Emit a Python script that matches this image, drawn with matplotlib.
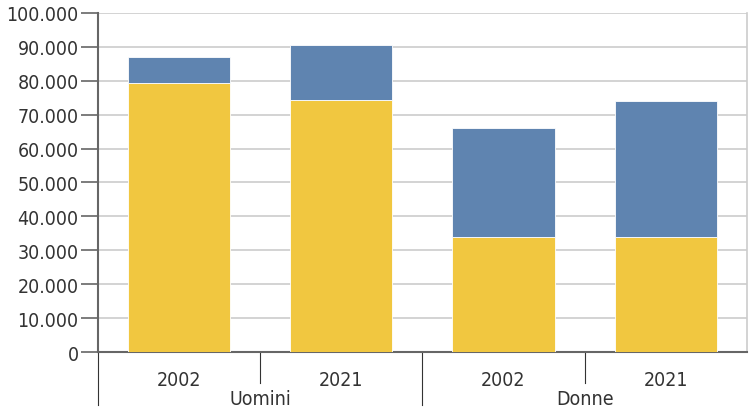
import matplotlib.pyplot as plt
from matplotlib.ticker import FuncFormatter

anni = ["2002", "2021", "2002", "2021"]
gruppi = ["Uomini", "Donne"]
parte_gialla = [79300, 74200, 34000, 34000]
parte_blu = [7600, 16400, 32200, 40000]

giallo = "#F1C740"
blu = "#5F84B0"

plt.rcParams['font.family'] = ['DejaVu Sans']
plt.rcParams['font.stretch'] = 'condensed'

fig = plt.figure(figsize=(7.5, 4.1), dpi=100)
ax = fig.add_axes([0.1307, 0.139, 0.865, 0.827])

x = list(range(len(anni)))
ax.bar(x, parte_gialla, width=0.63, color=giallo, edgecolor="white", linewidth=0.6, zorder=3)
ax.bar(x, parte_blu, width=0.63, bottom=parte_gialla, color=blu, edgecolor="white", linewidth=0.6, zorder=3)

ax.set_xlim(-0.5, 3.5)
ax.set_ylim(0, 100000)
ax.set_yticks(range(0, 100001, 10000))
ax.yaxis.set_major_formatter(FuncFormatter(lambda v, p: "0" if v == 0 else f"{int(v):,}".replace(",", ".")))
ax.tick_params(axis="y", length=12, width=1.2, color="#666666", labelsize=14, pad=2, labelcolor="#333333")
ax.grid(axis="y", color="#cccccc", linewidth=1.2, zorder=0)
ax.set_xticks([])

ax.spines["top"].set_visible(False)
ax.spines["right"].set_color("#cccccc")
ax.spines["right"].set_linewidth(1.2)
ax.spines["left"].set_color("#666666")
ax.spines["left"].set_linewidth(1.5)
ax.spines["bottom"].set_color("#666666")
ax.spines["bottom"].set_linewidth(1.5)

# asse x raggruppato
trans = ax.get_xaxis_transform()
for i, a in enumerate(anni):
    ax.text(i, -0.08, a, transform=trans, ha="center", va="center", fontsize=14, color="#333333")
for i, g in enumerate(gruppi):
    ax.text(2 * i + 0.5, -0.138, g, transform=trans, ha="center", va="center", fontsize=14, color="#333333")
for xs in [0.5, 2.5]:
    ax.plot([xs, xs], [0, -0.09], transform=trans, color="#333333", linewidth=0.8, clip_on=False)
for xs in [-0.5, 1.5]:
    ax.plot([xs, xs], [0, -0.157], transform=trans, color="#333333", linewidth=0.8, clip_on=False)

plt.savefig("out.png", dpi=100)
